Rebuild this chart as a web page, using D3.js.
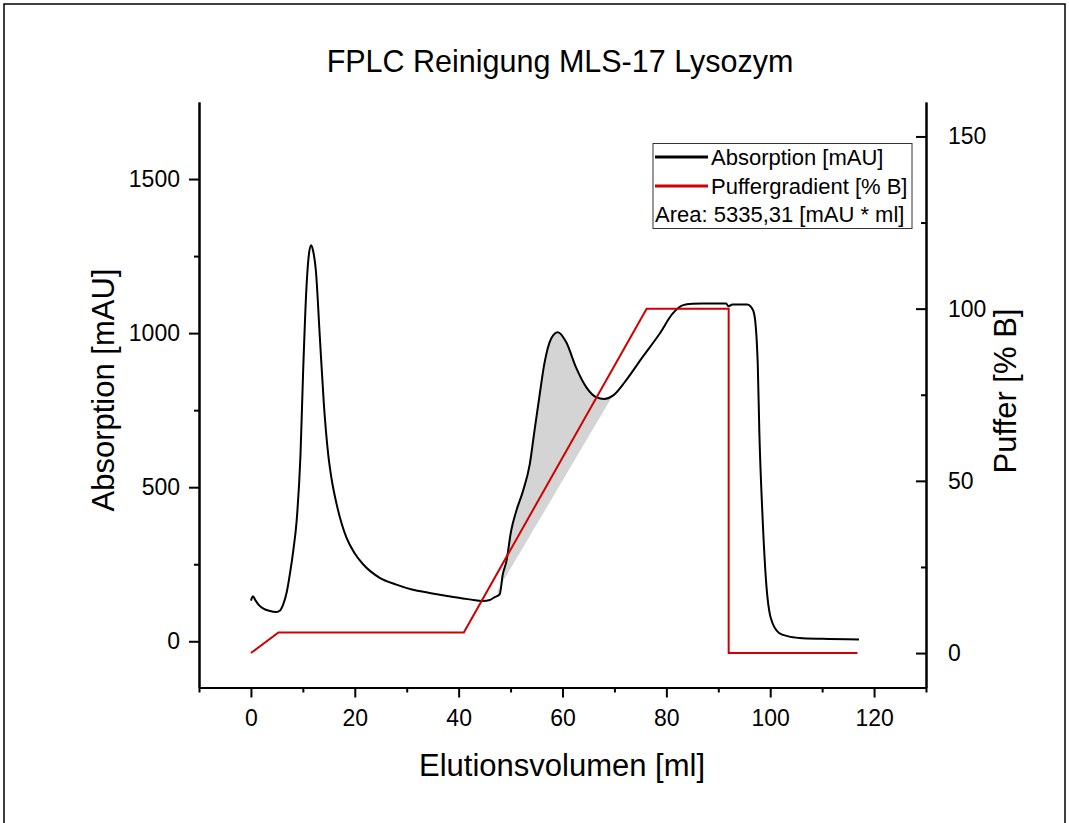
<!DOCTYPE html>
<html>
<head>
<meta charset="utf-8">
<script src="https://cdn.jsdelivr.net/npm/d3@7"></script>
<style>
	body { margin: 0; background: #fff; }
	text { font-family: Arial, "Liberation Sans", sans-serif; fill: #000; }
</style>
</head>
<body>
<svg id="svgChart" width="1069" height="823"></svg>
<script>
// Absorption trace (Elutionsvolumen [ml] -> mAU)
var absVolume = [0, 0.4, 0.8, 1.5, 2.5, 3.5, 4.9, 5.6, 6.2, 6.9, 7.5, 8.2, 8.8, 9.55, 10.06, 10.7, 11.2, 11.6, 12.0,
	12.5, 13.27, 14.04, 14.87, 15.6, 16.5, 18.4, 20, 21.6, 24.8, 28, 31, 34.4, 37.5, 40.8, 42.1, 44.7, 46.0, 46.8,
	47.9, 48.5, 49.2, 50.1, 51.1, 52.4, 53.7, 54.6, 55.6, 56.5, 57.8, 59.1, 60.7, 62.6, 64.6, 66.5, 68.0, 69.7,
	72.2, 75.4, 78.7, 81.2, 83.1, 85, 87, 91.5, 92, 92.7, 95.6, 96.3, 96.9, 97.6, 97.9, 98.5, 99.2, 100.1, 101.7,
	103.5, 105.6, 110, 117.1];
var absValue = [132, 146, 135, 118, 105, 99, 95, 100, 119, 160, 218, 300, 390, 608, 879, 1150, 1260, 1285, 1265,
	1204, 987, 771, 608, 520, 445, 336, 285, 250, 206, 184, 168, 157, 148, 139, 136, 131, 134, 142,
	152, 217, 260, 358, 423, 488, 575, 683, 800, 900, 982, 1003, 971, 889, 824, 792, 786, 797,
	846, 922, 998, 1063, 1090, 1095, 1096, 1096, 1087, 1093, 1093, 1085, 1063, 900, 683, 412, 195, 76, 27,
	16, 11, 8, 6];

// Puffergradient [% B]
var gradVolume = [0, 5.3, 41, 76.2, 92, 92, 116.8];
var gradValue = [0, 6, 6, 100, 100, 0, 0];

// Integration baseline of the shaded peak
var baseVolume = [47.5, 69.5];
var baseValue = [165, 792];

// Ticks
var xMajor = [0, 20, 40, 60, 80, 100, 120];
var xMinor = [-10, 10, 30, 50, 70, 90, 110, 130];
var yLeftMajor = [0, 500, 1000, 1500];
var yLeftMinor = [250, 750, 1250];
var yRightMajor = [0, 50, 100, 150];
var yRightMinor = [25, 75, 125];

// Texts
var chartTitle = "FPLC Reinigung MLS-17 Lysozym";
var xTitle = "Elutionsvolumen [ml]";
var yLeftTitle = "Absorption [mAU]";
var yRightTitle = "Puffer [% B]";
var legendLabels = ["Absorption [mAU]", "Puffergradient [% B]"];
var areaLabel = "Area: 5335,31 [mAU * ml]";

var fplc = {};
fplc.plot = { left: 199, right: 926, top: 102, bottom: 687.5 };
fplc.black = "#000000";
fplc.red = "#d00000";

// Linear interpolation helper
fplc.interp = (xs, ys, x) => {
	for (let i = 0; i < xs.length - 1; i++) {
		if (x >= xs[i] && x <= xs[i + 1]) {
			let t = (x - xs[i]) / (xs[i + 1] - xs[i]);
			return ys[i] + t * (ys[i + 1] - ys[i]);
		}
	}
	return ys[ys.length - 1];
}

fplc.draw = () => {
	let svg = d3.select("#svgChart");
	let p = fplc.plot;

	let x = d3.scaleLinear().domain([-10, 130]).range([p.left, p.right]),
		yL = d3.scaleLinear().domain([-150, 1750]).range([p.bottom, p.top]),
		yR = d3.scaleLinear().domain([-10, 160]).range([p.bottom, p.top]);

	// Outer frame
	svg.append("rect")
		.attr("x", 4).attr("y", 4)
		.attr("width", 1061).attr("height", 840)
		.attr("fill", "none")
		.attr("stroke", "#000")
		.attr("stroke-width", 1.5);

	let absData = absVolume.map((v, i) => ({ x: v, y: absValue[i] }));
	let gradData = gradVolume.map((v, i) => ({ x: v, y: gradValue[i] }));

	// Shaded area between curve and baseline
	let fillData = [baseVolume[0]]
		.concat(absVolume.filter(v => v > baseVolume[0] && v < baseVolume[1]))
		.concat([baseVolume[1]])
		.map(v => ({
			x: v,
			y1: fplc.interp(absVolume, absValue, v),
			y0: fplc.interp(baseVolume, baseValue, v)
		}));

	svg.append("path")
		.datum(fillData)
		.attr("fill", "#d4d4d4")
		.attr("d", d3.area()
			.x(d => x(d.x))
			.y0(d => yL(d.y0))
			.y1(d => yL(d.y1))
			.curve(d3.curveMonotoneX));

	// Absorption line
	svg.append("path")
		.datum(absData)
		.attr("fill", "none")
		.attr("stroke", fplc.black)
		.attr("stroke-width", 2)
		.attr("stroke-linejoin", "round")
		.attr("d", d3.line()
			.x(d => x(d.x))
			.y(d => yL(d.y))
			.curve(d3.curveMonotoneX));

	// Gradient line
	svg.append("path")
		.datum(gradData)
		.attr("fill", "none")
		.attr("stroke", fplc.red)
		.attr("stroke-width", 2)
		.attr("d", d3.line()
			.x(d => x(d.x))
			.y(d => yR(d.y)));

	// Axes
	let fmt = d3.format("d");
	let axisStyle = (g) => {
		g.select(".domain").attr("stroke-width", 2);
		g.selectAll(".tick line").attr("stroke-width", 2);
		g.selectAll(".tick text")
			.style("font-family", "Arial, 'Liberation Sans', sans-serif")
			.style("font-size", "23px");
	};

	svg.append("g")
		.attr("transform", "translate(0," + p.bottom + ")")
		.call(d3.axisBottom(x).tickValues(xMinor).tickSize(5).tickSizeOuter(0).tickFormat(""))
		.call(axisStyle);
	svg.append("g")
		.attr("transform", "translate(0," + p.bottom + ")")
		.call(d3.axisBottom(x).tickValues(xMajor).tickSize(10).tickSizeOuter(0).tickPadding(12).tickFormat(fmt))
		.call(axisStyle);

	svg.append("g")
		.attr("transform", "translate(" + p.left + ",0)")
		.call(d3.axisLeft(yL).tickValues(yLeftMinor).tickSize(5).tickSizeOuter(0).tickFormat(""))
		.call(axisStyle);
	svg.append("g")
		.attr("transform", "translate(" + p.left + ",0)")
		.call(d3.axisLeft(yL).tickValues(yLeftMajor).tickSize(10).tickSizeOuter(0).tickPadding(9).tickFormat(fmt))
		.call(axisStyle);

	// Right axis: ticks point inward, labels outside
	let right = svg.append("g")
		.attr("transform", "translate(" + p.right + ",0)");
	right.append("g")
		.call(d3.axisRight(yR).tickValues(yRightMinor).tickSize(-5).tickSizeOuter(0).tickFormat(""))
		.call(axisStyle);
	right.append("g")
		.call(d3.axisRight(yR).tickValues(yRightMajor).tickSize(-10).tickSizeOuter(0).tickPadding(22).tickFormat(fmt))
		.call(axisStyle);

	// Titles
	svg.append("text")
		.attr("x", 560).attr("y", 72)
		.attr("text-anchor", "middle")
		.style("font-size", "30.5px")
		.text(chartTitle);

	svg.append("text")
		.attr("x", 562).attr("y", 776)
		.attr("text-anchor", "middle")
		.style("font-size", "31px")
		.text(xTitle);

	svg.append("text")
		.attr("transform", "translate(114,390) rotate(-90)")
		.attr("text-anchor", "middle")
		.style("font-size", "31px")
		.text(yLeftTitle);

	svg.append("text")
		.attr("transform", "translate(1016,391) rotate(-90)")
		.attr("text-anchor", "middle")
		.style("font-size", "31px")
		.text(yRightTitle);

	// Legend
	let legend = svg.append("g");
	legend.append("rect")
		.attr("x", 653).attr("y", 143.5)
		.attr("width", 259).attr("height", 85)
		.attr("fill", "#fff")
		.attr("stroke", "#333")
		.attr("stroke-width", 1);

	let legendColors = [fplc.black, fplc.red];
	legend.selectAll(".lg-line")
		.data(legendLabels)
		.enter()
		.append("line")
		.attr("class", "lg-line")
		.attr("x1", 655).attr("x2", 708)
		.attr("y1", (d, i) => 157 + i * 29)
		.attr("y2", (d, i) => 157 + i * 29)
		.attr("stroke", (d, i) => legendColors[i])
		.attr("stroke-width", 3);

	legend.selectAll(".lg-text")
		.data(legendLabels)
		.enter()
		.append("text")
		.attr("class", "lg-text")
		.attr("x", 711)
		.attr("y", (d, i) => 165 + i * 29)
		.style("font-size", "22px")
		.text(d => d);

	legend.append("text")
		.attr("x", 655).attr("y", 222)
		.style("font-size", "22px")
		.text(areaLabel);
}

fplc.draw();
</script>
</body>
</html>
